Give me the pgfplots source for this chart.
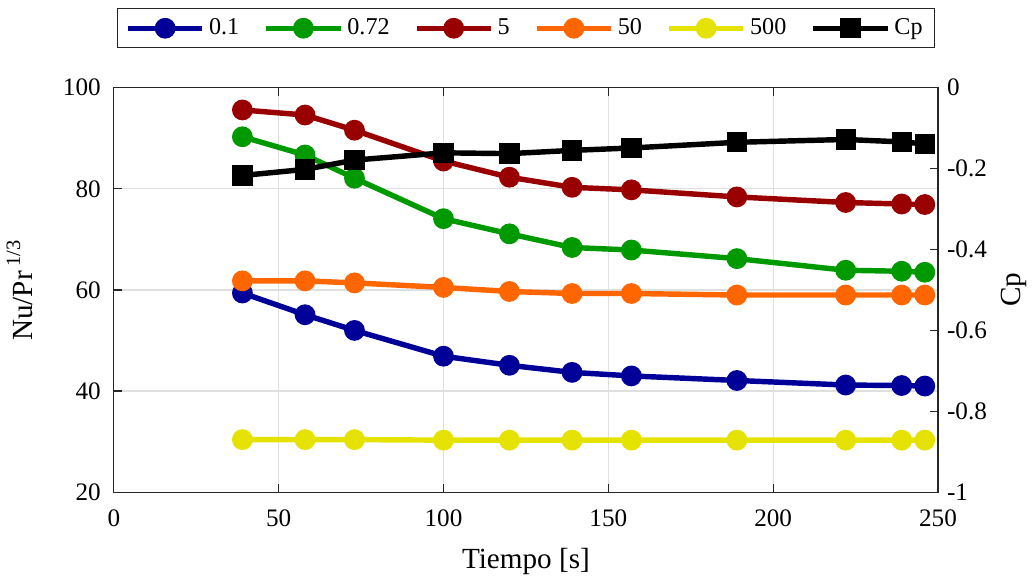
\documentclass[border=0pt]{standalone}
\usepackage{pgfplots}
\pgfplotsset{compat=1.18}
\usepackage{fontspec}
\setmainfont{Liberation Serif}
\definecolor{cblue}{RGB}{0,0,153}
\definecolor{cgreen}{RGB}{0,153,0}
\definecolor{cred}{RGB}{153,0,0}
\definecolor{corange}{RGB}{255,102,0}
\definecolor{cyellow}{RGB}{230,226,0}
\definecolor{axgray}{RGB}{38,38,38}

\pgfplotstableread{
x    a     b     c     d     e     cp
39   59.4  90.3  95.6  61.8  30.4  -0.217
58   55.1  86.7  94.6  61.8  30.4  -0.202
73   52.0  82.1  91.6  61.4  30.4  -0.179
100  46.9  74.1  85.5  60.5  30.3  -0.161
120  45.1  71.1  82.3  59.7  30.3  -0.163
139  43.7  68.4  80.3  59.3  30.3  -0.155
157  43.0  67.9  79.8  59.3  30.3  -0.149
189  42.1  66.2  78.4  59.0  30.3  -0.135
222  41.2  63.9  77.3  59.0  30.3  -0.128
239  41.1  63.7  77.0  59.0  30.3  -0.134
246  41.0  63.5  76.9  59.0  30.3  -0.139
}\data

\pgfplotsset{
  every axis/.append style={
    scale only axis, width=409.5pt, height=201pt,
    xmin=0, xmax=250,
    tick label style={font=\fontsize{12.5}{14}\selectfont},
    label style={font=\fontsize{14.5}{16}\selectfont},
    /pgf/number format/assume math mode=true,
    axis line style={axgray, line width=0.6pt},
    tick style={axgray, line width=0.6pt},
    tick align=inside,
    major tick length=4pt,
  },
  mystyle/.style={line width=2.7pt, mark=*, mark size=3.8pt, mark options={solid}},
  /pgfplots/legend image code/.code={
    \draw[mark repeat=2,mark phase=2] plot coordinates {(0pt,0pt) (18.5pt,0pt) (37pt,0pt)};
  },
}

\begin{document}
\begin{tikzpicture}
\begin{axis}[
  ymin=20, ymax=100,
  xtick={0,50,...,250},
  ytick={20,40,...,100},
  xtick pos=both,
  ytick pos=left,
  grid=major,
  major grid style={gray!25, line width=0.6pt},
  xlabel={Tiempo [s]},
  ylabel={Nu/Pr\,\raisebox{1pt}{\textsuperscript{1/3}}},
  xticklabel style={yshift=-5pt},
  yticklabel style={xshift=-3pt},
  xlabel style={yshift=-4pt},
  ylabel style={yshift=8pt},
]
\addplot[mystyle, cblue, mark options={fill=cblue}] table[x=x,y=a] {\data};
\addplot[mystyle, cgreen, mark options={fill=cgreen}] table[x=x,y=b] {\data};
\addplot[mystyle, cred, mark options={fill=cred}] table[x=x,y=c] {\data};
\addplot[mystyle, corange, mark options={fill=corange}] table[x=x,y=d] {\data};
\addplot[mystyle, cyellow, mark options={fill=cyellow}] table[x=x,y=e] {\data};
\end{axis}
\begin{axis}[
  ymin=-1, ymax=0,
  axis y line*=right,
  axis x line=none,
  ytick={-1,-0.8,...,0},
  yticklabels={-1,-0.8,-0.6,-0.4,-0.2,0},
  yticklabel style={xshift=1pt},
  ylabel={Cp},
  legend columns=6,
  legend style={at={(0.5,1.097)}, anchor=south, font=\fontsize{12}{14}\selectfont,
    draw=axgray, line width=0.6pt, /tikz/every even column/.append style={column sep=10pt},
    inner xsep=4pt, inner ysep=3pt},
]
\addlegendimage{mystyle, cblue, mark options={fill=cblue}}
\addlegendentry{0.1}
\addlegendimage{mystyle, cgreen, mark options={fill=cgreen}}
\addlegendentry{0.72}
\addlegendimage{mystyle, cred, mark options={fill=cred}}
\addlegendentry{5}
\addlegendimage{mystyle, corange, mark options={fill=corange}}
\addlegendentry{50}
\addlegendimage{mystyle, cyellow, mark options={fill=cyellow}}
\addlegendentry{500}
\addplot[line width=2.7pt, black, mark=square*, mark size=3.7pt, mark options={solid, fill=black}] table[x=x,y=cp] {\data};
\addlegendentry{Cp}
\end{axis}
\path ([yshift=4pt]current bounding box.north);
\end{tikzpicture}
\end{document}
